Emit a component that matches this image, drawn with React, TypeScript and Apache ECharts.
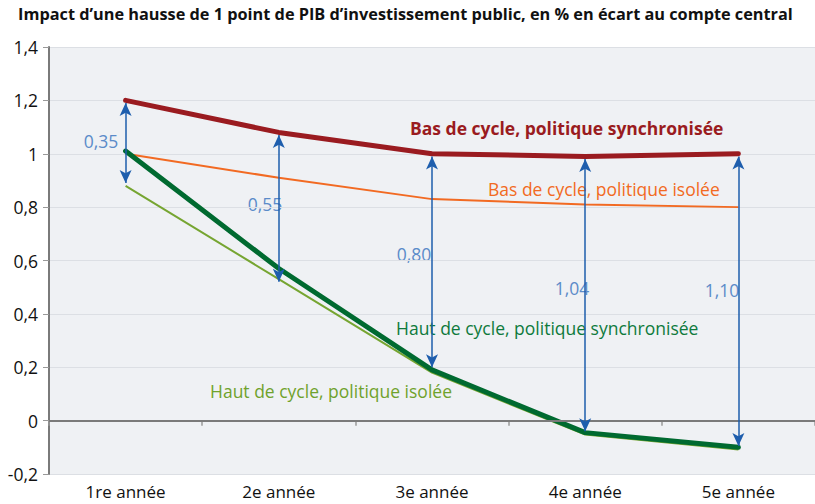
import React, { useEffect, useRef } from "react";
import * as echarts from "echarts";

const categories = ["1re année", "2e année", "3e année", "4e année", "5e année"];
const basSync = [1.2, 1.08, 1.0, 0.99, 1.0];
const basIsolee = [1.0, 0.91, 0.83, 0.81, 0.8];
const hautSync = [1.01, 0.57, 0.19, -0.045, -0.1];
const hautIsolee = [0.88, 0.53, 0.18, -0.052, -0.108];
const arrowTop = [1.19, 1.07, 0.99, 0.98, 0.99];
const arrowBottom = [0.89, 0.52, 0.2, -0.04, -0.095];
const arrowLabels = ["0,35", "0,55", "0,80", "1,04", "1,10"];

const FONT = "'Open Sans', 'Noto Sans', sans-serif";
const FS = 17.5;

export default function App() {
  const ref = useRef<HTMLDivElement>(null);
  useEffect(() => {
    if (!ref.current) return;
    const chart = echarts.init(ref.current, null, { renderer: "svg" });
    const fmt = (v: number) => String(Math.round(v * 10) / 10).replace(".", ",");
    const arrowData = categories.map((c, i) => [
      { coord: [c, arrowTop[i]] },
      { coord: [c, arrowBottom[i]] },
    ]);
    chart.setOption({
      animation: false,
      backgroundColor: "#ffffff",
      textStyle: { fontFamily: FONT },
      grid: {
        left: 49,
        right: -7,
        top: 47,
        bottom: 30,
        show: true,
        backgroundColor: "#eff1f4",
        borderWidth: 0,
      },
      xAxis: {
        type: "category",
        data: categories,
        boundaryGap: true,
        axisLine: { show: true, lineStyle: { color: "#d9dce1", width: 1 } },
        axisTick: { show: true, length: 5, lineStyle: { color: "#999", width: 1.5 } },
        axisLabel: {
          color: "#111",
          fontSize: 17,
          lineHeight: 18,
          margin: 8,
          fontFamily: FONT,
        },
      },
      yAxis: {
        type: "value",
        min: -0.2,
        max: 1.4,
        interval: 0.2,
        axisLine: { show: true, lineStyle: { color: "#7a7a7a", width: 2 } },
        axisTick: { show: true, length: 6, lineStyle: { color: "#999", width: 1 } },
        axisLabel: {
          color: "#111",
          fontSize: FS,
          margin: 11,
          fontFamily: FONT,
          formatter: (v: number) => fmt(v),
        },
        splitLine: { show: true, lineStyle: { color: "#dcdfe4", width: 1 } },
      },
      series: [
        {
          name: "Haut de cycle, politique isolée",
          type: "line",
          data: hautIsolee,
          symbol: "none",
          lineStyle: { color: "#76a531", width: 2 },
          markLine: {
            silent: true,
            symbol: "none",
            label: { show: false },
            lineStyle: { color: "#7a7a7a", width: 2, type: "solid" },
            data: [{ yAxis: 0 }],
          },
        },
        {
          name: "Bas de cycle, politique isolée",
          type: "line",
          data: basIsolee,
          symbol: "none",
          lineStyle: { color: "#f26a22", width: 2 },
        },
        {
          name: "Haut de cycle, politique synchronisée",
          type: "line",
          data: hautSync,
          symbol: "none",
          lineStyle: { color: "#006a30", width: 5, cap: "round" },
        },
        {
          name: "Bas de cycle, politique synchronisée",
          type: "line",
          data: basSync,
          symbol: "none",
          lineStyle: { color: "#9a1b20", width: 5, cap: "round" },
          markLine: {
            silent: true,
            symbol: ["arrow", "arrow"],
            symbolSize: [9, 13],
            label: { show: false },
            lineStyle: { color: "#1e5ead", width: 1.5, type: "solid" },
            data: arrowData,
          },
        },
      ],
      graphic: [
        {
          type: "text",
          left: 18,
          top: 6,
          style: {
            text: "Impact d’une hausse de 1 point de PIB d’investissement public, en % en écart au compte central",
            fontSize: 16.3,
            fontWeight: "bold",
            fill: "#111",
            fontFamily: FONT,
          },
        },
        ...[
          [101, 141],
          [265, 204],
          [414, 254],
          [572, 288],
          [722, 290],
        ].map((p, i) => ({
          type: "text",
          x: p[0],
          y: p[1],
          style: {
            text: arrowLabels[i],
            fontSize: FS,
            fill: "#5b8bc9",
            align: "center",
            verticalAlign: "middle",
            fontFamily: FONT,
          },
        })),
        {
          type: "text",
          x: 410,
          y: 128,
          style: {
            text: "Bas de cycle, politique synchronisée",
            fontSize: FS,
            fontWeight: "bold",
            fill: "#9a1b20",
            verticalAlign: "middle",
            fontFamily: FONT,
          },
        },
        {
          type: "text",
          x: 488,
          y: 189,
          style: {
            text: "Bas de cycle, politique isolée",
            fontSize: FS,
            fill: "#f26a22",
            verticalAlign: "middle",
            fontFamily: FONT,
          },
        },
        {
          type: "text",
          x: 396,
          y: 328,
          style: {
            text: "Haut de cycle, politique synchronisée",
            fontSize: FS,
            fill: "#0e7a3c",
            verticalAlign: "middle",
            fontFamily: FONT,
          },
        },
        {
          type: "text",
          x: 210,
          y: 391,
          style: {
            text: "Haut de cycle, politique isolée",
            fontSize: FS,
            fill: "#6fa22c",
            verticalAlign: "middle",
            fontFamily: FONT,
          },
        },
      ],
    });
    return () => chart.dispose();
  }, []);
  return (
    <div
      ref={ref}
      style={{ position: "absolute", left: 0, top: 0, width: 815, height: 504 }}
    />
  );
}
